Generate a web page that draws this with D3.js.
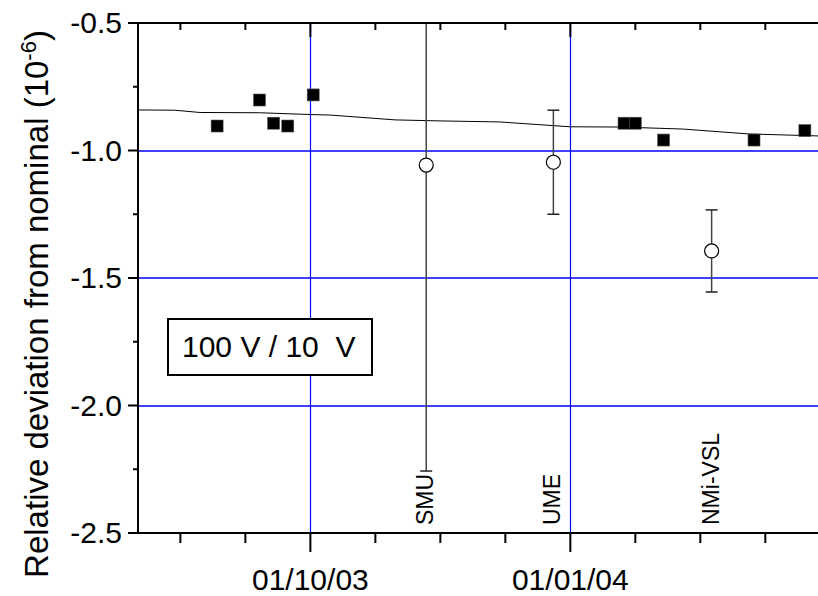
<!DOCTYPE html>
<html>
<head>
<meta charset="utf-8">
<script src="https://cdn.jsdelivr.net/npm/d3@7"></script>
<style>
  body { margin: 0; background: #fff; }
  svg { display: block; font-family: "Liberation Sans", Arial, sans-serif; }
</style>
</head>
<body>
<div id="chart"></div>
<script>
// <-- ************ DATA ************ -->
const parse = d3.timeParse("%Y-%m-%d");

// own measurements (filled squares)
const measDates = ["2003-08-29", "2003-09-13", "2003-09-18", "2003-09-23", "2003-10-02",
                   "2004-01-20", "2004-01-24", "2004-02-03", "2004-03-06", "2004-03-24"];
const measValues = [-0.904, -0.802, -0.893, -0.904, -0.782,
                    -0.893, -0.893, -0.959, -0.959, -0.922];

// comparison labs (open circles with error bars)
const labNames = ["SMU", "UME", "NMi-VSL"];
const labDates = ["2003-11-11", "2003-12-26", "2004-02-20"];
const labValues = [-1.057, -1.046, -1.394];
const labErrors = [1.2, 0.204, 0.161];

// drift line
const fitDates = ["2003-08-01", "2003-08-14", "2003-08-23", "2003-09-13", "2003-10-01", "2003-10-08",
                  "2003-10-31", "2003-11-16", "2003-12-07", "2004-01-01", "2004-01-19", "2004-02-10",
                  "2004-03-04", "2004-03-29"];
const fitValues = [-0.841, -0.842, -0.851, -0.852, -0.859, -0.861,
                   -0.880, -0.884, -0.888, -0.907, -0.908, -0.916,
                   -0.935, -0.943];

// axes
const xMajorTicks = ["2003-10-01", "2004-01-01"];
const xMajorLabels = ["01/10/03", "01/01/04"];
const xMinorTicks = ["2003-08-16", "2003-09-08", "2003-10-24", "2003-11-16", "2003-12-09",
                     "2004-01-24", "2004-02-16", "2004-03-10"];
const yMajorTicks = [-0.5, -1.0, -1.5, -2.0, -2.5];
const yMinorTicks = [-0.75, -1.25, -1.75, -2.25];
const yGrid = [-1.0, -1.5, -2.0];
const legendText = "100 V / 10  V";

// <-- ************ LAYOUT ************ -->
const FRAME_WIDTH = 818;
const FRAME_HEIGHT = 596;
const PLOT = {left: 138, right: 819, top: 23, bottom: 533};
const FONT = 30;
const GRID_BLUE = "#0000ff";

const svg = d3.select("#chart").append("svg")
  .attr("width", FRAME_WIDTH)
  .attr("height", FRAME_HEIGHT);

const X_SCALE = d3.scaleTime()
  .domain([parse("2003-08-01"), parse("2004-03-29")])
  .range([PLOT.left, PLOT.right]);

const Y_SCALE = d3.scaleLinear()
  .domain([-2.5, -0.5])
  .range([PLOT.bottom, PLOT.top]);

svg.append("clipPath").attr("id", "plot-clip")
  .append("rect")
  .attr("x", PLOT.left).attr("y", PLOT.top)
  .attr("width", PLOT.right - PLOT.left).attr("height", PLOT.bottom - PLOT.top);

const plot = svg.append("g").attr("clip-path", "url(#plot-clip)");

// grid lines
plot.selectAll(".hgrid").data(yGrid).enter().append("line")
  .attr("class", "hgrid")
  .attr("x1", PLOT.left).attr("x2", PLOT.right)
  .attr("y1", (d) => Math.round(Y_SCALE(d)))
  .attr("y2", (d) => Math.round(Y_SCALE(d)))
  .attr("stroke", GRID_BLUE).attr("stroke-width", 1.5);

plot.selectAll(".vgrid").data(xMajorTicks).enter().append("line")
  .attr("class", "vgrid")
  .attr("x1", (d) => Math.floor(X_SCALE(parse(d))) + 0.5)
  .attr("x2", (d) => Math.floor(X_SCALE(parse(d))) + 0.5)
  .attr("y1", PLOT.top).attr("y2", PLOT.bottom)
  .attr("stroke", GRID_BLUE).attr("stroke-width", 1.2);

// drift line
const fitData = fitDates.map((d, i) => ({date: parse(d), value: fitValues[i]}));
plot.append("path")
  .datum(fitData)
  .attr("fill", "none")
  .attr("stroke", "#000")
  .attr("stroke-width", 1)
  .attr("d", d3.line().x((d) => X_SCALE(d.date)).y((d) => Y_SCALE(d.value)));

// labs with error bars
const labData = labNames.map((n, i) => ({
  name: n, date: parse(labDates[i]), value: labValues[i], err: labErrors[i]
}));

const bars = plot.selectAll(".err").data(labData).enter().append("g").attr("class", "err");
bars.append("line")
  .attr("x1", (d) => X_SCALE(d.date)).attr("x2", (d) => X_SCALE(d.date))
  .attr("y1", (d) => Y_SCALE(d.value + d.err)).attr("y2", (d) => Y_SCALE(d.value - d.err))
  .attr("stroke", "#444").attr("stroke-width", 1.5);
bars.append("line")
  .attr("x1", (d) => X_SCALE(d.date) - 6).attr("x2", (d) => X_SCALE(d.date) + 6)
  .attr("y1", (d) => Y_SCALE(d.value + d.err)).attr("y2", (d) => Y_SCALE(d.value + d.err))
  .attr("stroke", "#222").attr("stroke-width", 1.5);
bars.append("line")
  .attr("x1", (d) => X_SCALE(d.date) - 6).attr("x2", (d) => X_SCALE(d.date) + 6)
  .attr("y1", (d) => Y_SCALE(d.value - d.err)).attr("y2", (d) => Y_SCALE(d.value - d.err))
  .attr("stroke", "#222").attr("stroke-width", 1.5);
bars.append("circle")
  .attr("cx", (d) => X_SCALE(d.date))
  .attr("cy", (d) => Y_SCALE(d.value))
  .attr("r", 7)
  .attr("fill", "#fff")
  .attr("stroke", "#000")
  .attr("stroke-width", 1.2);

// measurements
plot.selectAll(".meas").data(measDates).enter().append("rect")
  .attr("class", "meas")
  .attr("x", (d) => X_SCALE(parse(d)) - 6)
  .attr("y", (d, i) => Y_SCALE(measValues[i]) - 6)
  .attr("width", 12).attr("height", 12)
  .attr("fill", "#000")
  .attr("stroke", "#555")
  .attr("stroke-width", 0.6);

// lab labels (vertical)
svg.selectAll(".lab-label").data(labData).enter().append("text")
  .attr("class", "lab-label")
  .attr("transform", (d) => "translate(" + (X_SCALE(d.date) + 7) + "," + (PLOT.bottom - 8) + ") rotate(-90)")
  .attr("font-size", 23)
  .attr("fill", "#000")
  .text((d) => d.name);

// legend box
svg.append("rect")
  .attr("x", 168).attr("y", 319)
  .attr("width", 204).attr("height", 56)
  .attr("fill", "#fff").attr("stroke", "#000").attr("stroke-width", 2);
svg.append("text")
  .attr("x", 182).attr("y", 357)
  .attr("font-size", FONT)
  .style("white-space", "pre")
  .text(legendText);

// <-- ************ AXES ************ -->
const axisColor = "#000";

// left axis
svg.append("line")
  .attr("x1", PLOT.left).attr("x2", PLOT.left)
  .attr("y1", PLOT.top - 1).attr("y2", PLOT.bottom + 1)
  .attr("stroke", axisColor).attr("stroke-width", 2);
svg.selectAll(".ymaj").data(yMajorTicks).enter().append("line")
  .attr("class", "ymaj")
  .attr("x1", PLOT.left - 10).attr("x2", PLOT.left)
  .attr("y1", (d) => Y_SCALE(d)).attr("y2", (d) => Y_SCALE(d))
  .attr("stroke", axisColor).attr("stroke-width", 2);
svg.selectAll(".ymin").data(yMinorTicks).enter().append("line")
  .attr("class", "ymin")
  .attr("x1", PLOT.left - 5).attr("x2", PLOT.left)
  .attr("y1", (d) => Y_SCALE(d)).attr("y2", (d) => Y_SCALE(d))
  .attr("stroke", axisColor).attr("stroke-width", 2);
svg.selectAll(".ylab").data(yMajorTicks).enter().append("text")
  .attr("class", "ylab")
  .attr("x", PLOT.left - 16)
  .attr("y", (d) => Y_SCALE(d) + 10)
  .attr("text-anchor", "end")
  .attr("font-size", FONT)
  .text((d) => d3.format(".1f")(d).replace("−", "-"));

// bottom axis
svg.append("line")
  .attr("x1", PLOT.left - 10).attr("x2", FRAME_WIDTH)
  .attr("y1", PLOT.bottom).attr("y2", PLOT.bottom)
  .attr("stroke", axisColor).attr("stroke-width", 2);
svg.selectAll(".xmaj").data(xMajorTicks).enter().append("line")
  .attr("class", "xmaj")
  .attr("x1", (d) => X_SCALE(parse(d))).attr("x2", (d) => X_SCALE(parse(d)))
  .attr("y1", PLOT.bottom).attr("y2", PLOT.bottom + 19)
  .attr("stroke", axisColor).attr("stroke-width", 2);
svg.selectAll(".xmin").data(xMinorTicks).enter().append("line")
  .attr("class", "xmin")
  .attr("x1", (d) => X_SCALE(parse(d))).attr("x2", (d) => X_SCALE(parse(d)))
  .attr("y1", PLOT.bottom).attr("y2", PLOT.bottom + 10)
  .attr("stroke", axisColor).attr("stroke-width", 2);
svg.selectAll(".xlab").data(xMajorTicks).enter().append("text")
  .attr("class", "xlab")
  .attr("x", (d) => X_SCALE(parse(d)))
  .attr("y", 590)
  .attr("text-anchor", "middle")
  .attr("font-size", FONT)
  .text((d, i) => xMajorLabels[i]);

// top axis
svg.append("line")
  .attr("x1", PLOT.left - 1).attr("x2", FRAME_WIDTH)
  .attr("y1", PLOT.top).attr("y2", PLOT.top)
  .attr("stroke", axisColor).attr("stroke-width", 2);
svg.selectAll(".tmaj").data(xMajorTicks).enter().append("line")
  .attr("class", "tmaj")
  .attr("x1", (d) => X_SCALE(parse(d))).attr("x2", (d) => X_SCALE(parse(d)))
  .attr("y1", PLOT.top).attr("y2", PLOT.top + 14)
  .attr("stroke", axisColor).attr("stroke-width", 2);
svg.selectAll(".tmin").data(xMinorTicks).enter().append("line")
  .attr("class", "tmin")
  .attr("x1", (d) => X_SCALE(parse(d))).attr("x2", (d) => X_SCALE(parse(d)))
  .attr("y1", PLOT.top).attr("y2", PLOT.top + 7)
  .attr("stroke", axisColor).attr("stroke-width", 2);

// y title
const title = svg.append("text")
  .attr("transform", "translate(48,304) rotate(-90)")
  .attr("text-anchor", "middle")
  .attr("font-size", 33);
title.append("tspan").text("Relative deviation from nominal (10");
title.append("tspan").attr("dy", -12).attr("font-size", 22).text("-6");
title.append("tspan").attr("dy", 12).text(")");
</script>
</body>
</html>
